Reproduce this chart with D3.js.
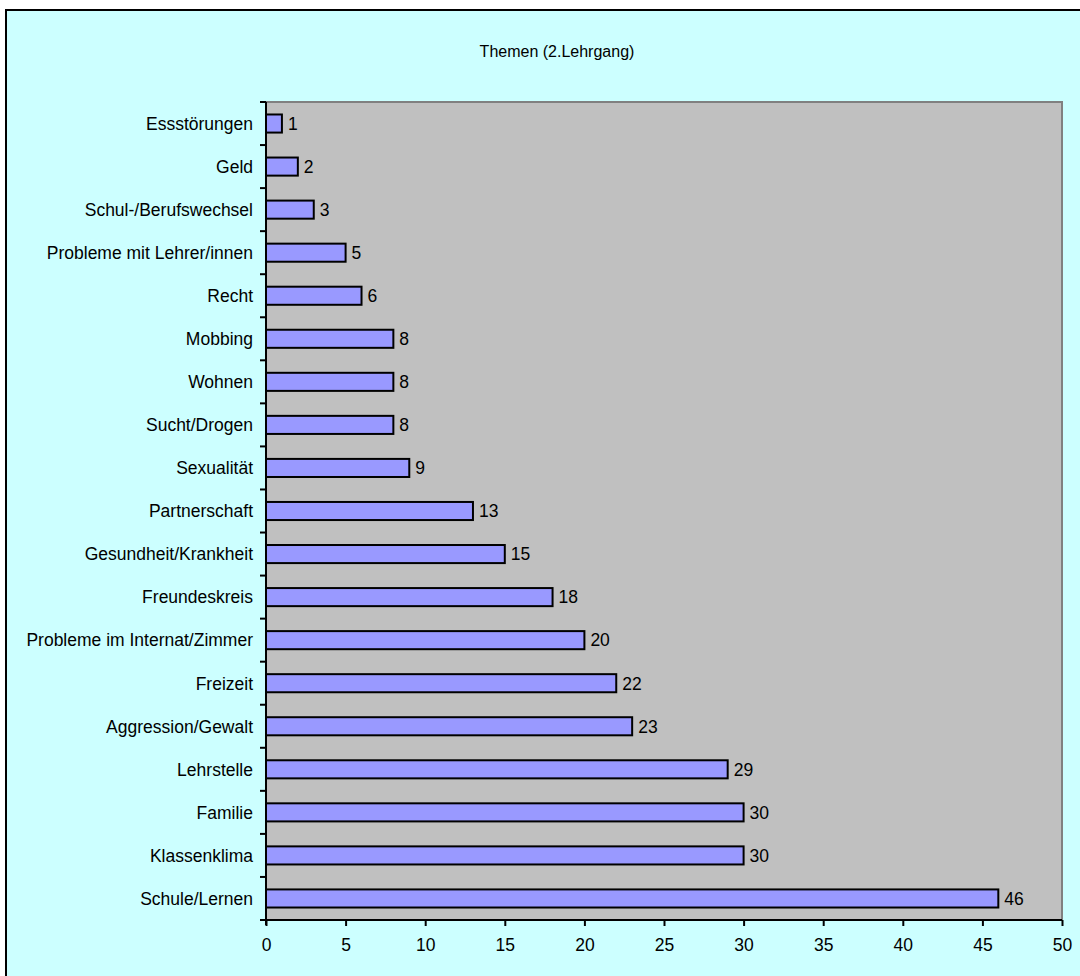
<!DOCTYPE html>
<html>
<head>
<meta charset="utf-8">
<script src="https://cdn.jsdelivr.net/npm/d3@7"></script>
<style>
  html, body { margin: 0; padding: 0; background: #ffffff; }
  svg { display: block; }
  text { font-family: "Liberation Sans", Arial, sans-serif; fill: #000; }
</style>
</head>
<body>
<div id="chart"></div>
<script>
const title = "Themen (2.Lehrgang)";
const categories = [
  "Essstörungen", "Geld", "Schul-/Berufswechsel", "Probleme mit Lehrer/innen",
  "Recht", "Mobbing", "Wohnen", "Sucht/Drogen", "Sexualität", "Partnerschaft",
  "Gesundheit/Krankheit", "Freundeskreis", "Probleme im Internat/Zimmer",
  "Freizeit", "Aggression/Gewalt", "Lehrstelle", "Familie", "Klassenklima",
  "Schule/Lernen"
];
const values = [1, 2, 3, 5, 6, 8, 8, 8, 9, 13, 15, 18, 20, 22, 23, 29, 30, 30, 46];
const xTicks = [0, 5, 10, 15, 20, 25, 30, 35, 40, 45, 50];

const W = 1080, H = 976;
const plot = { left: 266, top: 102, right: 1062, bottom: 920 };
const FS = "17.5px";

const svg = d3.select("#chart").append("svg").attr("width", W).attr("height", H);

// outer chart area
svg.append("rect").attr("x", 6).attr("y", 10).attr("width", W).attr("height", H)
  .attr("fill", "#CCFFFF").attr("stroke", "#000").attr("stroke-width", 2);

// title
svg.append("text").attr("x", 557).attr("y", 57).attr("text-anchor", "middle")
  .style("font-size", "16px").text(title);

const x = d3.scaleLinear().domain([0, 50]).range([plot.left, plot.right]);
const y = d3.scaleBand().domain(categories).range([plot.top, plot.bottom])
  .paddingInner(0.58).paddingOuter(0.29);

// plot area
svg.append("rect").attr("x", plot.left).attr("y", plot.top)
  .attr("width", plot.right - plot.left).attr("height", plot.bottom - plot.top)
  .attr("fill", "#C0C0C0").attr("stroke", "#808080").attr("stroke-width", 2);

// bars
const data = categories.map((c, i) => ({ c, v: values[i] }));
svg.append("g").selectAll("rect").data(data).join("rect")
  .attr("x", x(0))
  .attr("y", d => y(d.c))
  .attr("width", d => x(d.v) - x(0))
  .attr("height", y.bandwidth())
  .attr("fill", "#9999FF").attr("stroke", "#000").attr("stroke-width", 2);

// value labels
svg.append("g").selectAll("text").data(data).join("text")
  .attr("x", d => x(d.v) + 6)
  .attr("y", d => y(d.c) + y.bandwidth() / 2)
  .attr("dy", "0.36em")
  .style("font-size", FS)
  .text(d => d.v);

// y axis: ticks at category boundaries
const step = (plot.bottom - plot.top) / categories.length;
const boundaries = d3.range(categories.length + 1);
const yAxis = svg.append("g");
yAxis.append("line").attr("x1", plot.left).attr("x2", plot.left)
  .attr("y1", plot.top).attr("y2", plot.bottom + 5)
  .attr("stroke", "#000").attr("stroke-width", 2);
yAxis.selectAll("line.tick").data(boundaries).join("line").attr("class", "tick")
  .attr("x1", plot.left - 6).attr("x2", plot.left)
  .attr("y1", i => plot.top + i * step).attr("y2", i => plot.top + i * step)
  .attr("stroke", "#000").attr("stroke-width", 2);
yAxis.selectAll("text").data(categories).join("text")
  .attr("x", plot.left - 13)
  .attr("y", c => y(c) + y.bandwidth() / 2)
  .attr("dy", "0.36em")
  .attr("text-anchor", "end")
  .style("font-size", FS)
  .text(c => c);

// x axis
const xAxis = d3.axisBottom(x).tickValues(xTicks).tickSize(6).tickPadding(13);
const gx = svg.append("g").attr("transform", `translate(0,${plot.bottom})`).call(xAxis);
gx.select(".domain").attr("stroke", "#000").attr("stroke-width", 2)
  .attr("d", `M${plot.left - 6},0H${plot.right}`);
gx.selectAll(".tick line").attr("stroke", "#000").attr("stroke-width", 2);
gx.selectAll(".tick text").style("font-size", FS)
  .style("font-family", "'Liberation Sans', Arial, sans-serif").attr("fill", "#000");
</script>
</body>
</html>
